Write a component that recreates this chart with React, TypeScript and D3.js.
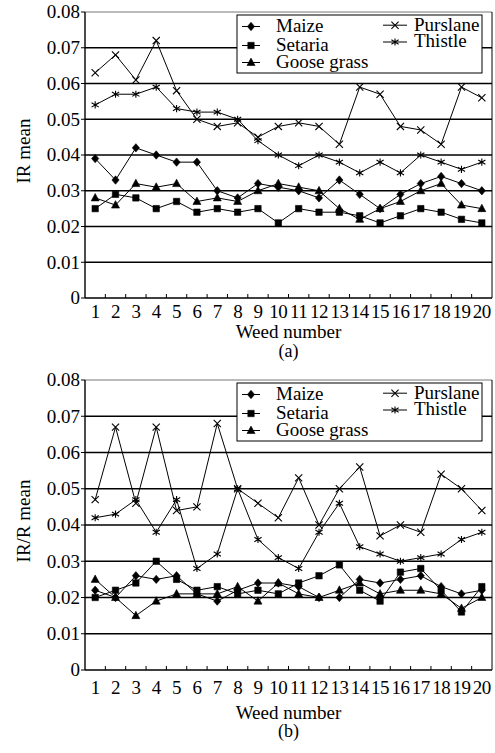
import React from "react";
import * as d3 from "d3";

const weeds = d3.range(1, 21);
const yTicks = [0, 0.01, 0.02, 0.03, 0.04, 0.05, 0.06, 0.07, 0.08];
const seriesNames = ["Maize", "Setaria", "Goose grass", "Purslane", "Thistle"];
const seriesMarkers = ["diamond", "square", "triangle", "times", "asterisk"];

// Panel (a): IR mean
const irMaize = [0.039, 0.033, 0.042, 0.040, 0.038, 0.038, 0.030, 0.028, 0.032, 0.031, 0.030, 0.028, 0.033, 0.029, 0.025, 0.029, 0.032, 0.034, 0.032, 0.030];
const irSetaria = [0.025, 0.029, 0.028, 0.025, 0.027, 0.024, 0.025, 0.024, 0.025, 0.021, 0.025, 0.024, 0.024, 0.023, 0.021, 0.023, 0.025, 0.024, 0.022, 0.021];
const irGoose = [0.028, 0.026, 0.032, 0.031, 0.032, 0.027, 0.028, 0.027, 0.030, 0.032, 0.031, 0.030, 0.025, 0.022, 0.025, 0.027, 0.030, 0.032, 0.026, 0.025];
const irPurslane = [0.063, 0.068, 0.061, 0.072, 0.058, 0.050, 0.048, 0.049, 0.045, 0.048, 0.049, 0.048, 0.043, 0.059, 0.057, 0.048, 0.047, 0.043, 0.059, 0.056];
const irThistle = [0.054, 0.057, 0.057, 0.059, 0.053, 0.052, 0.052, 0.050, 0.044, 0.040, 0.037, 0.040, 0.038, 0.035, 0.038, 0.035, 0.040, 0.038, 0.036, 0.038];

// Panel (b): IR/R mean
const rrMaize = [0.022, 0.020, 0.026, 0.025, 0.026, 0.021, 0.019, 0.022, 0.024, 0.024, 0.023, 0.020, 0.020, 0.025, 0.024, 0.025, 0.026, 0.023, 0.021, 0.022];
const rrSetaria = [0.020, 0.022, 0.024, 0.030, 0.025, 0.022, 0.023, 0.021, 0.022, 0.021, 0.024, 0.026, 0.029, 0.022, 0.019, 0.027, 0.028, 0.022, 0.016, 0.023];
const rrGoose = [0.025, 0.020, 0.015, 0.019, 0.021, 0.021, 0.021, 0.023, 0.019, 0.024, 0.021, 0.020, 0.022, 0.024, 0.021, 0.022, 0.022, 0.021, 0.017, 0.020];
const rrPurslane = [0.047, 0.067, 0.046, 0.067, 0.044, 0.045, 0.068, 0.050, 0.046, 0.042, 0.053, 0.040, 0.050, 0.056, 0.037, 0.040, 0.038, 0.054, 0.050, 0.044];
const rrThistle = [0.042, 0.043, 0.047, 0.038, 0.047, 0.028, 0.032, 0.050, 0.036, 0.031, 0.028, 0.038, 0.046, 0.034, 0.032, 0.030, 0.031, 0.032, 0.036, 0.038];

const FONT = '"Liberation Serif", "Times New Roman", Times, serif';

function markerPath(kind: string): string {
  const r = 3.6;
  switch (kind) {
    case "diamond":
      return `M0,${-4.2}L${3.6},0L0,${4.2}L${-3.6},0Z`;
    case "square":
      return `M${-3.2},${-3.2}H3.2V3.2H-3.2Z`;
    case "triangle":
      return `M0,-4.4L4,3L-4,3Z`;
    case "times":
      return `M${-r},${-r}L${r},${r}M${-r},${r}L${r},${-r}`;
    case "asterisk":
      return `M${-r},${-r * 0.6}L${r},${r * 0.6}M${-r},${r * 0.6}L${r},${-r * 0.6}M0,${-r}L0,${r}`;
  }
  return "";
}

const Marker = ({ kind, x, y }: { kind: string; x: number; y: number }) => {
  const filled = kind === "diamond" || kind === "square" || kind === "triangle";
  return (
    <path
      d={markerPath(kind)}
      transform={`translate(${x},${y})`}
      fill={filled ? "#000" : "none"}
      stroke="#000"
      strokeWidth={filled ? 0.6 : 1.1}
    />
  );
};

type PanelProps = {
  top: number;
  bottom: number;
  yLabel: string;
  caption: string;
  tickLabelY: number;
  xTitleY: number;
  captionY: number;
  series: number[][];
};

const LEFT = 85;
const RIGHT = 492;

const Panel = ({ top, bottom, yLabel, caption, tickLabelY, xTitleY, captionY, series }: PanelProps) => {
  const x = d3.scaleBand<number>().domain(weeds).range([LEFT, RIGHT]).padding(0);
  const y = d3.scaleLinear().domain([0, 0.08]).range([bottom, top]);
  const cx = (d: number) => (x(d) as number) + x.bandwidth() / 2;
  const line = d3
    .line<number>()
    .x((_, i) => cx(weeds[i]))
    .y((v) => y(v));
  const fmt = (d: number) => (d === 0 ? "0" : d.toFixed(2));
  const legTop = top + 3;
  const leftRows = [
    { i: 0, ty: top + 19.5, my: top + 14.5 },
    { i: 1, ty: top + 38.5, my: top + 33.5 },
    { i: 2, ty: top + 56, my: top + 50.5 },
  ];
  const rightRows = [
    { i: 3, ty: top + 18.7, my: top + 13.2 },
    { i: 4, ty: top + 34.5, my: top + 30 },
  ];
  return (
    <g style={{ fontFamily: FONT }} fill="#000">
      {/* gridlines */}
      {yTicks.slice(1, -1).map((t) => (
        <line key={t} x1={LEFT} x2={RIGHT} y1={y(t)} y2={y(t)} stroke="#000" strokeWidth={1.4} />
      ))}
      <line x1={LEFT} x2={RIGHT} y1={y(0.08)} y2={y(0.08)} stroke="#777" strokeWidth={1} />
      <line x1={RIGHT} x2={RIGHT} y1={top} y2={bottom} stroke="#000" strokeWidth={1} />
      {/* y axis */}
      <line x1={LEFT} x2={LEFT} y1={top} y2={bottom} stroke="#000" strokeWidth={1.4} />
      {yTicks.map((t) => (
        <g key={t}>
          <line x1={LEFT - 4} x2={LEFT} y1={y(t)} y2={y(t)} stroke="#000" strokeWidth={1} />
          <text x={LEFT - 5} y={y(t)} dy="0.34em" textAnchor="end" fontSize={19}>
            {fmt(t)}
          </text>
        </g>
      ))}
      {/* x axis */}
      <line x1={LEFT} x2={RIGHT} y1={bottom} y2={bottom} stroke="#000" strokeWidth={1.4} />
      {weeds.slice(1).map((w) => (
        <line key={w} x1={x(w) as number} x2={x(w) as number} y1={bottom} y2={bottom - 4} stroke="#000" strokeWidth={1} />
      ))}
      {weeds.map((w) => (
        <text key={w} x={cx(w)} y={tickLabelY} dy="0.34em" textAnchor="middle" fontSize={19} letterSpacing={-0.5}>
          {w}
        </text>
      ))}
      <text x={(LEFT + RIGHT) / 2} y={xTitleY} dy="0.34em" textAnchor="middle" fontSize={19}>
        Weed number
      </text>
      <text x={(LEFT + RIGHT) / 2} y={captionY} dy="0.34em" textAnchor="middle" fontSize={18}>
        {caption}
      </text>
      <text
        transform={`translate(24,${(top + bottom) / 2 - 4}) rotate(-90)`}
        dy="0.34em"
        textAnchor="middle"
        fontSize={19}
      >
        {yLabel}
      </text>
      {/* series */}
      {series.map((vals, si) => (
        <g key={si}>
          <path d={line(vals) || ""} fill="none" stroke="#000" strokeWidth={1} />
          {vals.map((v, i) => (
            <Marker key={i} kind={seriesMarkers[si]} x={cx(weeds[i])} y={y(v)} />
          ))}
        </g>
      ))}
      {/* legend */}
      <rect x={237} y={legTop} width={245} height={58} fill="#fff" stroke="#000" strokeWidth={1} />
      {leftRows.map((r) => (
        <g key={r.i}>
          <line x1={242} x2={260} y1={r.my} y2={r.my} stroke="#000" strokeWidth={1} />
          <Marker kind={seriesMarkers[r.i]} x={251} y={r.my} />
          <text x={276} y={r.ty} fontSize={19}>
            {seriesNames[r.i]}
          </text>
        </g>
      ))}
      {rightRows.map((r) => (
        <g key={r.i}>
          <line x1={383} x2={407} y1={r.my} y2={r.my} stroke="#000" strokeWidth={1} />
          <Marker kind={seriesMarkers[r.i]} x={395} y={r.my} />
          <text x={414} y={r.ty} fontSize={19}>
            {seriesNames[r.i]}
          </text>
        </g>
      ))}
    </g>
  );
}
;

export default function App() {
  return (
    <svg
      width={495}
      height={753}
      style={{ position: "absolute", left: 0, top: 0, background: "#fff", fontFamily: FONT }}
    >
      <rect width={495} height={753} fill="#fff" />
      <Panel
        top={12}
        bottom={298}
        yLabel="IR mean"
        caption="(a)"
        tickLabelY={312}
        xTitleY={332}
        captionY={351}
        series={[irMaize, irSetaria, irGoose, irPurslane, irThistle]}
      />
      <Panel
        top={380}
        bottom={670}
        yLabel="IR/R mean"
        caption="(b)"
        tickLabelY={688}
        xTitleY={713}
        captionY={731}
        series={[rrMaize, rrSetaria, rrGoose, rrPurslane, rrThistle]}
      />
    </svg>
  );
}
